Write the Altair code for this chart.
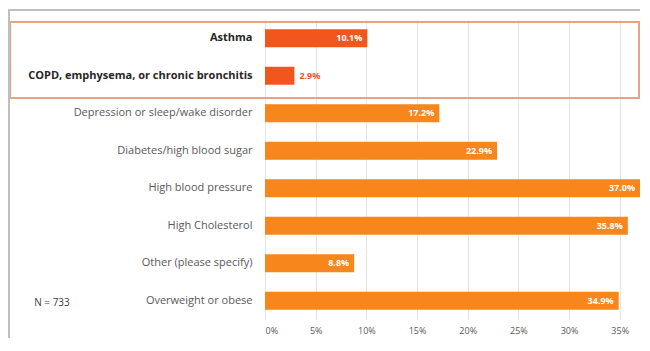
import altair as alt
import pandas as pd

categories = [
    "Asthma",
    "COPD, emphysema, or chronic bronchitis",
    "Depression or sleep/wake disorder",
    "Diabetes/high blood sugar",
    "High blood pressure",
    "High Cholesterol",
    "Other (please specify)",
    "Overweight or obese",
]
values = [10.1, 2.9, 17.2, 22.9, 37.0, 35.8, 8.8, 34.9]
value_labels = ["10.1%", "2.9%", "17.2%", "22.9%", "37.0%", "35.8%", "8.8%", "34.9%"]
highlighted = [True, True, False, False, False, False, False, False]
tick_values = [0, 5, 10, 15, 20, 25, 30, 35]
note_text = "N = 733"

HL = "#F2561D"
NORMAL = "#F7861C"
FONT = "Open Sans"

df = pd.DataFrame({
    "cat": categories,
    "val": values,
    "lab": value_labels,
    "hl": highlighted,
})

bold_test = "datum.value == 'Asthma' || datum.value == 'COPD, emphysema, or chronic bronchitis'"

y_enc = alt.Y(
    "cat:N",
    sort=categories,
    scale=alt.Scale(paddingInner=0.52, paddingOuter=0.26),
    axis=alt.Axis(
        title=None, ticks=False, domain=False, labelLimit=300, labelPadding=13,
        labelFontSize=11, labelFont=FONT,
        labelColor=alt.expr(f"({bold_test}) ? '#262626' : '#595959'"),
        labelFontWeight=alt.expr(f"({bold_test}) ? 'bold' : 'normal'"),
    ),
)
x_enc = alt.X(
    "val:Q",
    scale=alt.Scale(domain=[0, 37.0], nice=False),
    axis=alt.Axis(
        title=None, values=tick_values, labelExpr="datum.value + '%'",
        tickSize=0, domain=False, labelPadding=7, labelFontSize=9,
        labelFont=FONT, labelColor="#595959",
        grid=True, gridColor="#E4E4E4", gridWidth=1,
    ),
)

base = alt.Chart(df)

bars = base.mark_bar().encode(
    x=x_enc,
    y=y_enc,
    color=alt.Color("hl:N", scale=alt.Scale(domain=[True, False], range=[HL, NORMAL]), legend=None),
)

inside = base.transform_filter("datum.val >= 5").mark_text(
    align="right", baseline="middle", dx=-5, color="white", fontSize=9,
    fontWeight="bold", font=FONT,
).encode(x="val:Q", y=alt.Y("cat:N", sort=categories), text="lab:N")

outside = base.transform_filter("datum.val < 5").mark_text(
    align="left", baseline="middle", dx=5, color=HL, fontSize=9,
    fontWeight="bold", font=FONT,
).encode(x="val:Q", y=alt.Y("cat:N", sort=categories), text="lab:N")

box = alt.Chart(pd.DataFrame({"k": [0]})).mark_rect(
    fill=None, stroke="#E8A283", strokeWidth=2,
).encode(x=alt.value(-255), x2=alt.value(374), y=alt.value(2.5), y2=alt.value(78.5))

border_left = alt.Chart(pd.DataFrame({"k": [0]})).mark_rule(
    color="#BFBFBF", strokeWidth=2,
).encode(x=alt.value(-256), y=alt.value(-9.5), y2=alt.value(330))

border_top = alt.Chart(pd.DataFrame({"k": [0]})).mark_rule(
    color="#BFBFBF", strokeWidth=2,
).encode(x=alt.value(-257), x2=alt.value(375), y=alt.value(-9.5))

note = alt.Chart(pd.DataFrame({"t": [note_text]})).mark_text(
    fontSize=10, color="#404040", font=FONT,
).encode(x=alt.value(-213), y=alt.value(283), text="t:N")

chart = alt.layer(bars, inside, outside, box, border_left, border_top, note).properties(
    width=375,
    height=300,
    autosize="none",
    padding={"left": 257, "top": 11.5, "right": 0, "bottom": 18.5},
    background="white",
).configure_view(stroke=None)

chart.save("out.html", embed_options={"renderer": "svg", "actions": False})
